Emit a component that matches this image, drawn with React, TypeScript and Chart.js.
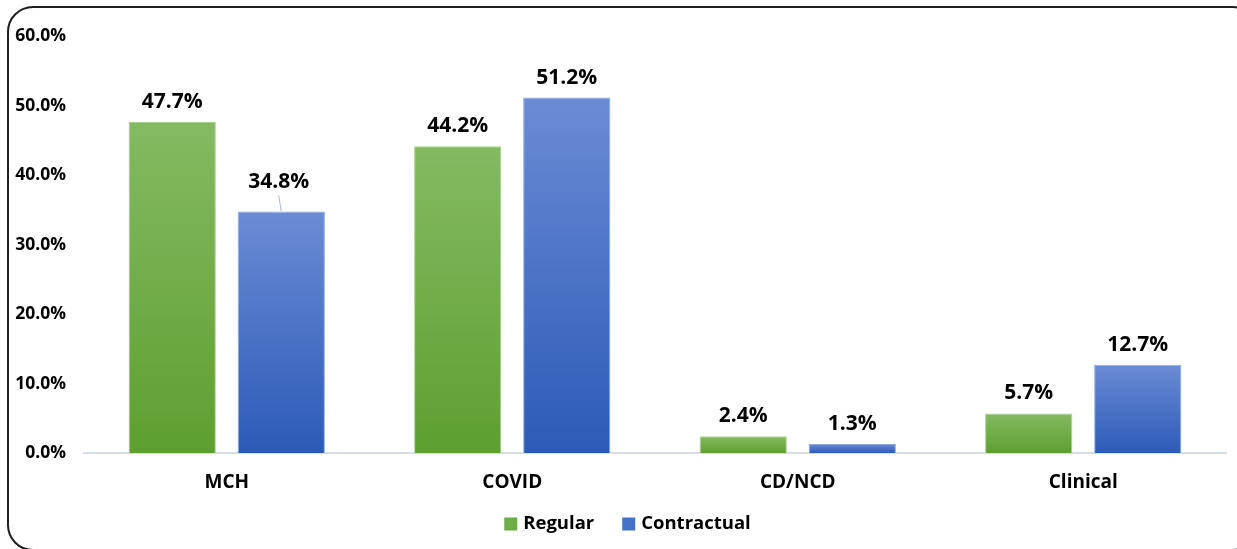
import React, { useEffect, useRef } from 'react';
import { Chart, registerables } from 'chart.js';

Chart.register(...registerables);

const categories = ['MCH', 'COVID', 'CD/NCD', 'Clinical'];
const seriesNames = ['Regular', 'Contractual'];
const regularValues = [47.7, 44.2, 2.4, 5.7];
const contractualValues = [34.8, 51.2, 1.3, 12.7];
const yTickMin = 0;
const yTickMax = 60;
const yTickStep = 10;

const FONT = '"Open Sans", Lato, "DejaVu Sans", sans-serif';

const seriesStyle = [
  { top: '#84BA62', bottom: '#5E9F30', solid: '#6EAD45', edge: '#A8D08C' },
  { top: '#6B8BD5', bottom: '#2C5BB7', solid: '#4472C4', edge: '#8FA9DD' },
];

function barGradient(top: string, bottom: string, fallback: string) {
  return (ctx: any) => {
    const chart = ctx.chart;
    const y = chart.scales && chart.scales.y;
    if (!y || ctx.type !== 'data') return fallback;
    const v = ctx.raw as number;
    const yTop = y.getPixelForValue(v);
    const yBot = y.getPixelForValue(0);
    if (!isFinite(yTop) || !isFinite(yBot) || Math.abs(yBot - yTop) < 0.5) return fallback;
    const g = chart.ctx.createLinearGradient(0, yTop, 0, yBot);
    g.addColorStop(0, top);
    g.addColorStop(1, bottom);
    return g;
  };
}

// label lifted above the bar with a leader line (dataset, index, lift, dx)
const liftedLabels = [{ ds: 1, idx: 0, lift: 9, dx: -2.5 }];

const valueLabelsPlugin = {
  id: 'valueLabels',
  afterDatasetsDraw(chart: any) {
    const { ctx } = chart;
    ctx.save();
    ctx.font = `bold 21px ${FONT}`;
    ctx.fillStyle = '#000000';
    ctx.textAlign = 'center';
    ctx.textBaseline = 'middle';
    chart.data.datasets.forEach((ds: any, di: number) => {
      const meta = chart.getDatasetMeta(di);
      meta.data.forEach((bar: any, i: number) => {
        const v = ds.data[i] as number;
        const special = liftedLabels.find((l) => l.ds === di && l.idx === i);
        const lift = special ? special.lift : 0;
        const dx = special ? special.dx : 0;
        const x = bar.x + dx;
        const y = bar.y - 20 - lift;
        ctx.fillText(v.toFixed(1) + '%', x, y);
        if (special) {
          ctx.save();
          ctx.strokeStyle = '#A9B7CF';
          ctx.lineWidth = 1;
          ctx.beginPath();
          ctx.moveTo(x, y + 13);
          ctx.lineTo(bar.x, bar.y);
          ctx.stroke();
          ctx.restore();
        }
      });
    });
    ctx.restore();
  },
};

const customLegendPlugin = {
  id: 'customLegend',
  afterDraw(chart: any) {
    const { ctx } = chart;
    ctx.save();
    ctx.font = `bold 18.5px ${FONT}`;
    ctx.textBaseline = 'middle';
    ctx.textAlign = 'left';
    const box = 13;
    const gapText = 6;
    const gapItem = 28;
    const widths = seriesNames.map((n) => box + gapText + ctx.measureText(n).width);
    const total = widths.reduce((a, b) => a + b, 0) + gapItem * (widths.length - 1);
    const centerX = 619.5;
    const cy = 516;
    let x = centerX - total / 2;
    seriesNames.forEach((name, i) => {
      ctx.fillStyle = seriesStyle[i].solid;
      ctx.fillRect(x, cy - box / 2, box, box);
      ctx.fillStyle = '#000000';
      ctx.fillText(name, x + box + gapText, cy);
      x += widths[i] + gapItem;
    });
    ctx.restore();
  },
};

export default function App() {
  const canvasRef = useRef<HTMLCanvasElement | null>(null);

  useEffect(() => {
    document.documentElement.style.overflow = 'hidden';
    document.body.style.overflow = 'hidden';
    if (!canvasRef.current) return;
    const datasetValues = [regularValues, contractualValues];
    const chart = new Chart(canvasRef.current, {
      type: 'bar',
      data: {
        labels: categories,
        datasets: seriesNames.map((name, i) => ({
          label: name,
          data: datasetValues[i],
          backgroundColor: barGradient(seriesStyle[i].top, seriesStyle[i].bottom, seriesStyle[i].solid),
          borderColor: seriesStyle[i].edge,
          borderWidth: 1,
          categoryPercentage: 0.764,
          barPercentage: 0.8,
        })),
      },
      options: {
        animation: false,
        responsive: true,
        maintainAspectRatio: false,
        layout: { padding: { left: 0, right: 11, top: 25, bottom: 0 } },
        plugins: {
          legend: { display: false },
          tooltip: { enabled: false },
        },
        scales: {
          x: {
            grid: { display: false, drawTicks: false },
            border: { display: true, color: '#D7DDE7', width: 2 },
            ticks: {
              padding: 18,
              color: '#000000',
              font: { family: FONT, size: 19, weight: 'bold' },
            },
            afterFit: (scale: any) => {
              scale.height = 96;
            },
          },
          y: {
            min: yTickMin,
            max: yTickMax,
            grid: { display: false, drawTicks: false },
            border: { display: false },
            ticks: {
              stepSize: yTickStep,
              padding: 18,
              color: '#000000',
              font: { family: FONT, size: 17.5, weight: 'bold' },
              callback: (v: any) => Number(v).toFixed(1) + '%',
            },
            afterFit: (scale: any) => {
              scale.width = 76;
            },
          },
        },
      },
      plugins: [valueLabelsPlugin, customLegendPlugin],
    } as any);
    return () => chart.destroy();
  }, []);

  return (
    <>
      <div
        style={{
          position: 'fixed',
          left: 7,
          top: 6,
          width: 1252,
          height: 545,
          border: '2px solid #1e1e1e',
          borderRadius: 26,
          boxSizing: 'border-box',
          background: '#ffffff',
        }}
      />
      <div style={{ position: 'fixed', left: 8, top: 8, width: 1229, height: 541 }}>
        <canvas ref={canvasRef} />
      </div>
    </>
  );
}
